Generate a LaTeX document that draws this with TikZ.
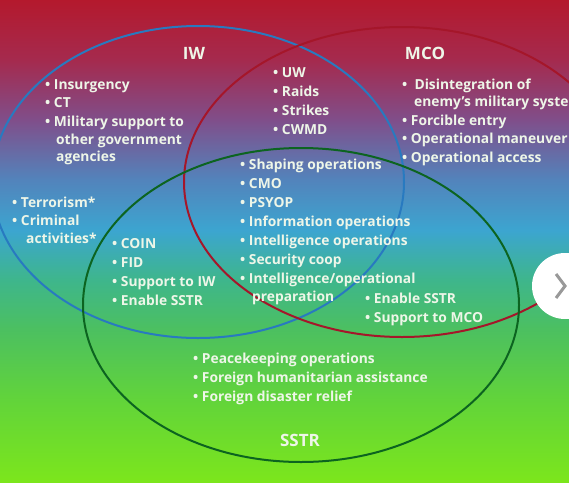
\documentclass[tikz,border=0pt]{standalone}
\usepackage{fontspec}
\setmainfont{Open Sans}
\usepackage{tikz}

\definecolor{bgtop}{RGB}{180,25,45}
\definecolor{bgwine}{RGB}{165,42,78}
\definecolor{bgmauve}{RGB}{128,78,138}
\definecolor{bgsteel}{RGB}{82,132,188}
\definecolor{bgsky}{RGB}{60,165,208}
\definecolor{bgteal}{RGB}{62,182,140}
\definecolor{bgleaf}{RGB}{76,192,96}
\definecolor{bglime}{RGB}{98,212,58}
\definecolor{bgbottom}{RGB}{124,230,28}
\definecolor{iwblue}{RGB}{40,122,192}
\definecolor{mcored}{RGB}{165,22,42}
\definecolor{sstrgreen}{RGB}{12,100,32}
\definecolor{labelwhite}{RGB}{238,246,232}

\pgfdeclareverticalshading{vennback}{100bp}{color(0bp)=(bgbottom); color(25bp)=(bgbottom);
  color(33.5bp)=(bglime); color(40.8bp)=(bgleaf); color(46bp)=(bgteal);
  color(51.1bp)=(bgsky); color(56.3bp)=(bgsteel); color(62.6bp)=(bgmauve);
  color(68.8bp)=(bgwine); color(75bp)=(bgtop); color(100bp)=(bgtop)}

\tikzset{
  ring/.style={line width=2pt},
  item/.style={anchor=mid west, inner sep=0pt, text=labelwhite,
    font=\fontsize{13.8}{16}\selectfont\bfseries},
  title/.style={inner sep=0pt, text=labelwhite,
    font=\fontsize{17}{20}\selectfont\bfseries}
}

\begin{document}
\begin{tikzpicture}[x=1pt,y=-1pt]
                        \useasboundingbox (0,0) rectangle (569,482);
                        \clip (0,0) rectangle (569,482);

                        % Filling background
                        \shade[shading=vennback] (0,0) rectangle (569,482);%

                        % Drawing ellipse IW
                        \draw [ring, iwblue] (198,182) ellipse [x radius=206, y radius=156];%

                        % Drawing ellipse MCO
                        \draw [ring, mcored] (402,182) ellipse [x radius=218, y radius=155];%

                        % Drawing ellipse SSTR
                        \draw [ring, sstrgreen] (301,305) ellipse [x radius=218, y radius=157];%

                        % Titles
                        \node [title] (iwtitle) at (194,53) {IW};%
                        \node [title] (mcotitle) at (425,53) {MCO};%
                        \node [title] (sstrtitle) at (300,440) {SSTR};%

                        % IW only
                        \node [item] (iwa) at (45,87) {\textbullet\ Insurgency};%
                        \node [item] (iwb) at (45,105) {\textbullet\ CT};%
                        \node [item] (iwc) at (45,124) {\textbullet\ Military support to};%
                        \node [item] (iwd) at (56,142) {other government};%
                        \node [item] (iwe) at (56,159) {agencies};%

                        % IW and MCO
                        \node [item] (botha) at (273,75) {\textbullet\ UW};%
                        \node [item] (bothb) at (273,94) {\textbullet\ Raids};%
                        \node [item] (bothc) at (273,113) {\textbullet\ Strikes};%
                        \node [item] (bothd) at (273,132) {\textbullet\ CWMD};%

                        % MCO only
                        \node [item] (mcoa) at (402,87) {\textbullet\ \ Disintegration of};%
                        \node [item] (mcob) at (414,104) {enemy’s military system};%
                        \node [item] (mcoc) at (402,123) {\textbullet\ Forcible entry};%
                        \node [item] (mcod) at (402,141) {\textbullet\ Operational maneuver};%
                        \node [item] (mcoe) at (402,160) {\textbullet\ Operational access};%

                        % Outside IW edge
                        \node [item] (outa) at (12,205) {\textbullet\ Terrorism*};%
                        \node [item] (outb) at (12,223) {\textbullet\ Criminal};%
                        \node [item] (outc) at (26,241) {activities*};%

                        % IW and SSTR
                        \node [item] (iwsa) at (112,246) {\textbullet\ COIN};%
                        \node [item] (iwsb) at (112,265) {\textbullet\ FID};%
                        \node [item] (iwsc) at (112,284) {\textbullet\ Support to IW};%
                        \node [item] (iwsd) at (112,303) {\textbullet\ Enable SSTR};%

                        % All three
                        \node [item] (alla) at (240,167) {\textbullet\ Shaping operations};%
                        \node [item] (allb) at (240,186) {\textbullet\ CMO};%
                        \node [item] (allc) at (240,205) {\textbullet\ PSYOP};%
                        \node [item] (alld) at (240,224) {\textbullet\ Information operations};%
                        \node [item] (alle) at (240,243) {\textbullet\ Intelligence operations};%
                        \node [item] (allf) at (240,262) {\textbullet\ Security coop};%
                        \node [item] (allg) at (240,281) {\textbullet\ Intelligence/operational};%
                        \node [item] (allh) at (252,299) {preparation};%

                        % MCO and SSTR
                        \node [item] (mcosa) at (365,301) {\textbullet\ Enable SSTR};%
                        \node [item] (mcosb) at (365,320) {\textbullet\ Support to MCO};%

                        % SSTR only
                        \node [item] (sstra) at (193,361) {\textbullet\ Peacekeeping operations};%
                        \node [item] (sstrb) at (193,380) {\textbullet\ Foreign humanitarian assistance};%
                        \node [item] (sstrc) at (193,399) {\textbullet\ Foreign disaster relief};%

                        % Next button
                        \fill [white] (565,286) circle (33);%
                        \draw [line width=3pt, gray!80] (556,274) -- (565,286) -- (556,298);%
\end{tikzpicture}
\end{document}
